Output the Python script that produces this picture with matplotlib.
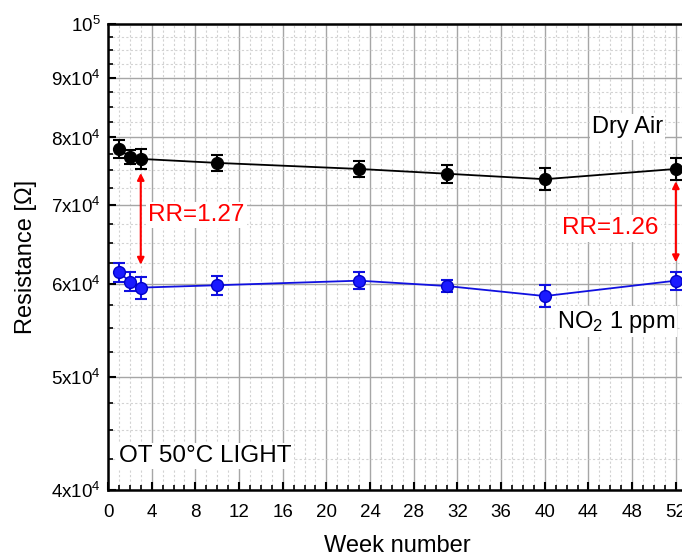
import numpy as np
import matplotlib
matplotlib.use('Agg')
import matplotlib.pyplot as plt
from matplotlib.ticker import FixedLocator, NullFormatter

plt.rcParams['font.family'] = ['Liberation Sans', 'DejaVu Sans']
plt.rcParams['mathtext.fontset'] = 'custom'
plt.rcParams['mathtext.rm'] = 'Liberation Sans'
plt.rcParams['mathtext.it'] = 'Liberation Sans'
plt.rcParams['mathtext.bf'] = 'Liberation Sans:bold'

# -- data -- #
weeks = [1, 2, 3, 10, 23, 31, 40, 52]
dry_air = [78200, 77000, 76700, 76100, 75200, 74500, 73700, 75200]
dry_air_err = [1380, 1010, 1510, 1240, 1180, 1320, 1600, 1630]
no2 = [61400, 60250, 59550, 59830, 60370, 59740, 58570, 60370]
no2_err = [1140, 1120, 1300, 1120, 980, 710, 1300, 1060]

rr_weeks = [3, 52]
rr_top = [74600, 73400]
rr_bottom = [62300, 62600]
rr_labels = ['RR=1.27', 'RR=1.26']

y_major = [40000, 50000, 60000, 70000, 80000, 90000, 100000]
y_labels = [r'$\mathregular{4x10^{4}}$', r'$\mathregular{5x10^{4}}$',
            r'$\mathregular{6x10^{4}}$', r'$\mathregular{7x10^{4}}$',
            r'$\mathregular{8x10^{4}}$', r'$\mathregular{9x10^{4}}$',
            r'$\mathregular{10^{5}}$']
x_major = list(range(0, 53, 4))

fig = plt.figure(figsize=(6.82, 5.56), dpi=100)
px_week = 10.92
ax = fig.add_axes([108 / 682, 1 - 490 / 556, 53 * px_week / 682, (490 - 24) / 556])

ax.set_yscale('log')
ax.set_xlim(0, 53)
ax.set_ylim(40000, 100000)

ax.set_xticks(x_major)
ax.xaxis.set_minor_locator(FixedLocator(range(0, 54)))
ax.set_yticks(y_major, y_labels)
minor_y = [v for v in np.arange(42500, 100000, 2500) if v not in y_major]
ax.yaxis.set_minor_locator(FixedLocator(minor_y))
ax.yaxis.set_minor_formatter(NullFormatter())

ax.grid(which='major', color='#a6a6a6', linestyle='-', linewidth=1.0)
ax.grid(which='minor', color='#d2d2d2', linestyle=(0, (2, 2)), linewidth=0.8)
ax.set_axisbelow(True)

ax.tick_params(which='major', direction='in', length=6, width=1.5, labelsize=13.5,
               top=False, right=False)
ax.tick_params(axis='x', which='major', pad=10)
ax.tick_params(axis='y', which='major', pad=5)
ax.tick_params(which='minor', direction='in', length=3.5, width=1.2,
               top=False, right=False)
for sp in ax.spines.values():
    sp.set_linewidth(1.8)

ax.errorbar(weeks, dry_air, yerr=dry_air_err, color='black', marker='o',
            markersize=8.5, markerfacecolor='black', markeredgecolor='black',
            linewidth=1.3, elinewidth=1.5, capsize=4.5, capthick=1.5, zorder=3)
ax.errorbar(weeks, no2, yerr=no2_err, color='#1010e0', ecolor='#1010e0',
            marker='o', markersize=8.5, markerfacecolor='#1a1aff',
            markeredgecolor='#0000c8', linewidth=1.3, elinewidth=1.5,
            capsize=4.5, capthick=1.5, zorder=3)

for wk, top, bot in zip(rr_weeks, rr_top, rr_bottom):
    ax.annotate('', xy=(wk, top), xytext=(wk, bot),
                arrowprops=dict(arrowstyle='<|-|>', color='#ff0000', lw=1.5,
                                mutation_scale=10, shrinkA=0, shrinkB=0),
                zorder=4)

box = dict(facecolor='white', edgecolor='none', pad=1.5)
ax.text(3.7, 68700, rr_labels[0], color='#ff0000', fontsize=17.5,
        ha='left', va='center', bbox=box, zorder=5)
ax.text(50.4, 66900, rr_labels[1], color='#ff0000', fontsize=17.5,
        ha='right', va='center', bbox=box, zorder=5)
ax.text(44.3, 81700, 'Dry Air', color='black', fontsize=17,
        ha='left', va='center', bbox=box, zorder=5)
ax.text(41.1, 55700, r'NO$_\mathregular{2}$ 1 ppm', color='black', fontsize=17,
        ha='left', va='center', bbox=box, zorder=5)
ax.text(1.0, 42770, 'OT 50°C LIGHT', color='black', fontsize=17.5,
        ha='left', va='center', bbox=box, zorder=5)

ax.set_xlabel('Week number', fontsize=17, labelpad=10)
ax.set_ylabel('Resistance [Ω]', fontsize=17, labelpad=10)

fig.savefig('out.png', dpi=100)
plt.close()
